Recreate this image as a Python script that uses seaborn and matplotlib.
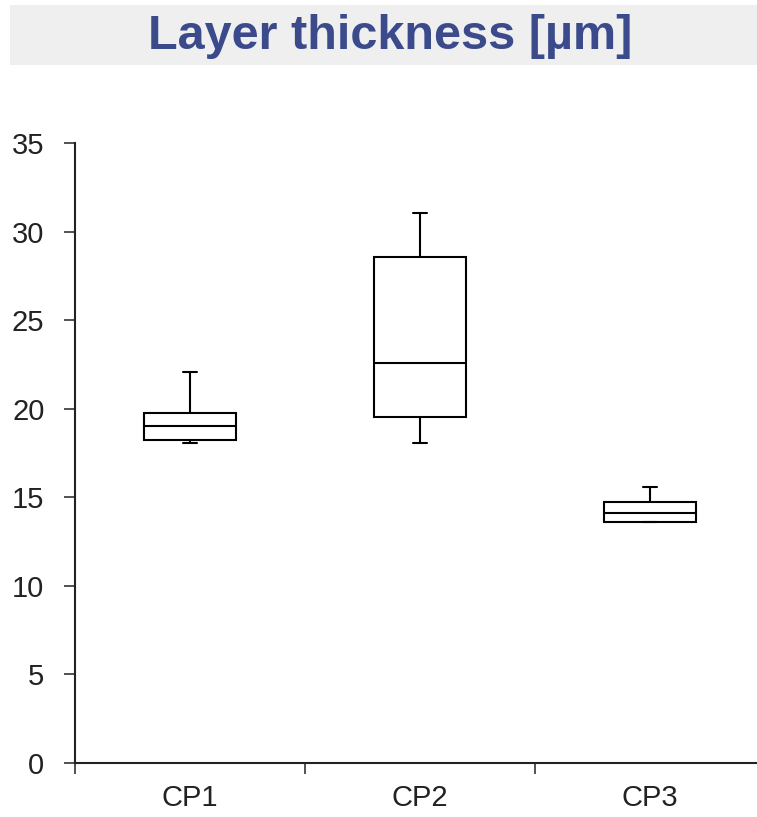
"""Box plot of layer thickness for the three CP samples."""

import matplotlib

matplotlib.use("Agg")

import matplotlib.pyplot as plt
import pandas as pd
import seaborn as sns
from matplotlib.patches import Rectangle

sns.set_theme(style="white")
plt.rcParams["font.family"] = ["Liberation Sans", "DejaVu Sans"]

# five-number summary per sample: min, q1, median, q3, max
muestras = ["CP1", "CP2", "CP3"]
minimos = [18.08, 18.07, 13.62]
cuartil1 = [18.23, 19.55, 13.62]
medianas = [19.05, 22.57, 14.09]
cuartil3 = [19.78, 28.59, 14.75]
maximos = [22.08, 31.03, 15.60]

filas = []
for i, m in enumerate(muestras):
    for v in (minimos[i], cuartil1[i], medianas[i], cuartil3[i], maximos[i]):
        filas.append({"muestra": m, "espesor": v})
df = pd.DataFrame(filas)

fig = plt.figure(figsize=(7.57, 8.17), dpi=100)

# banda gris del título
fig.patches.append(Rectangle((10 / 757, 1 - 65 / 817), 1, 60 / 817,
                             transform=fig.transFigure, facecolor="#efefef",
                             edgecolor="none", zorder=0))
fig.text(0.515, 1 - 49 / 817, "Layer thickness [µm]", ha="center", va="baseline",
         fontsize=35, fontweight="bold", color="#3b4a8a")

ax = fig.add_axes([75 / 757, 54 / 817, 690 / 757, 620 / 817])
sns.boxplot(data=df, x="muestra", y="espesor", order=muestras, whis=(0, 100),
            width=0.4, color="white", linecolor="black", linewidth=1.5,
            saturation=1, capwidths=0.06, ax=ax)

ax.set_xlim(-0.5, 2.5)
ax.set_ylim(0, 35)
ax.set_yticks(range(0, 36, 5))
ax.set_xticks([-0.5, 0.5, 1.5])
ax.set_xticklabels([])
ax.set_xticks([0, 1, 2], minor=True)
ax.set_xticklabels(muestras, minor=True)
ax.tick_params(axis="x", which="major", direction="out", length=8, width=1.2,
               color="#333333", bottom=True)
ax.tick_params(axis="x", which="minor", length=0, pad=15, labelsize=21,
               labelcolor="#222222")
ax.tick_params(axis="y", direction="out", length=8, width=1.2, color="#333333",
               left=True, labelsize=21, labelcolor="#222222", pad=14)
ax.set_xlabel("")
ax.set_ylabel("")
for lado in ("top", "right"):
    ax.spines[lado].set_visible(False)
for lado in ("left", "bottom"):
    ax.spines[lado].set_color("#222222")
    ax.spines[lado].set_linewidth(1.5)

fig.savefig("out.png", dpi=100)
